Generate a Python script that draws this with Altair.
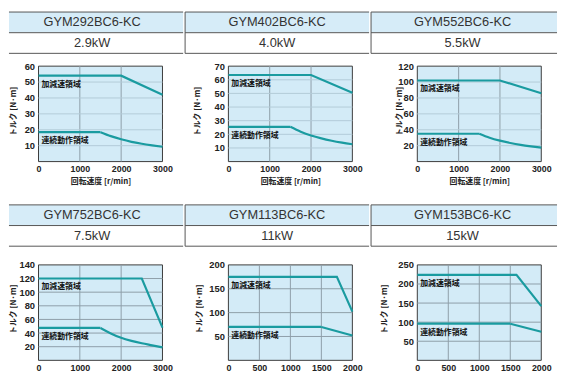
import altair as alt
import pandas as pd

# ---------------- data ----------------
MODELS = ["GYM292BC6-KC", "GYM402BC6-KC", "GYM552BC6-KC",
          "GYM752BC6-KC", "GYM113BC6-KC", "GYM153BC6-KC"]
POWERS = ["2.9kW", "4.0kW", "5.5kW", "7.5kW", "11kW", "15kW"]

X_MAX = [3000, 3000, 3000, 3000, 2000, 2000]
X_TICKS = [[0, 1000, 2000, 3000]] * 4 + [[0, 500, 1000, 1500, 2000]] * 2
Y_MAX = [60, 70, 120, 140, 200, 250]
Y_TICKS = [
    [10, 20, 30, 40, 50, 60],
    [10, 20, 30, 40, 50, 60, 70],
    [20, 40, 60, 80, 100, 120],
    [20, 40, 60, 80, 100, 120, 140],
    [50, 100, 150, 200],
    [50, 100, 150, 200, 250],
]

# acceleration / deceleration region (加減速領域)
ACC_SPEED = [[0, 2000, 3000], [0, 2000, 3000], [0, 2000, 3000],
             [0, 2500, 3000], [0, 1750, 2000], [0, 1600, 2000]]
ACC_TORQUE = [[54, 54, 42], [63.5, 63.5, 50.5], [102, 102, 86],
              [120, 120, 48], [175, 175, 102], [224, 224, 142]]

# continuous operation region (連続動作領域)
CONT_SPEED = [[0, 1500, 1750, 2000, 2250, 2500, 2750, 3000]] * 4 + [[0, 1500, 2000]] * 2
CONT_TORQUE = [
    [18.5, 18.5, 16, 14, 12.4, 11.2, 10.2, 9.3],
    [25.5, 25.5, 21.9, 19.1, 17, 15.3, 13.9, 12.7],
    [35, 35, 30, 26.3, 23.4, 21, 19.1, 17.5],
    [47.5, 47.5, 39.5, 33, 28.5, 25, 22, 19],
    [70, 70, 52],
    [96, 96, 75],
]

ACC_LABEL = "加減速領域"
CONT_LABEL = "連続動作領域"
Y_TITLE = "トルク [N·m]"
X_TITLE = "回転速度 [r/min]"

# ---------------- styling / layout ----------------
HEAD_BG = "#d6ecf8"
PLOT_BG = "#d3ebf7"
FRAME = "#3a3a3a"
HEAD_LINE = "#555555"
GRID = "#8e9ea8"
GRID_FAINT = "#b3cbd8"
TEAL = "#1a9ba0"
NUM_FONT = "Liberation Sans"
CJK_FONT = "Noto Sans CJK JP"

COL_W = [177, 187, 189]
PLOT_LEFT = [30, 44, 47]
PLOT_W = 126
PLOT_H = 97
HEAD_H = 42
PLOT_TOP = [12, 18]
VIEW_H = [152, 115]
HEAD_DX = [-4, 0, -1.5]
TITLE_X = [-25, -31, -18, -25, -29, -33]
TITLE_DY = [-3, -4]


def header(i):
    col = i % 3
    df = pd.DataFrame({"cell": [MODELS[i]] * 2, "row": ["model", "power"],
                       "text": [MODELS[i], POWERS[i]]})
    xenc = alt.X("cell:N", scale=alt.Scale(paddingInner=0, paddingOuter=0), axis=None)
    yscale = alt.Scale(domain=["model", "power"], paddingInner=0, paddingOuter=0)
    yenc = alt.Y("row:N", scale=yscale, axis=None)
    cells = alt.Chart(df).mark_rect().encode(
        x=xenc, y=yenc,
        color=alt.Color("row:N", scale=alt.Scale(domain=["model", "power"],
                                                 range=[HEAD_BG, "#ffffff"]), legend=None))
    txt = alt.Chart(df).mark_text(font=NUM_FONT, fontSize=13, color="#333333",
                                  dx=HEAD_DX[col]).encode(x=xenc, y=yenc, text="text:N")
    top_rules = alt.Chart(df).mark_rule(color=HEAD_LINE, strokeWidth=1).encode(
        y=alt.Y("row:N", scale=yscale, axis=None, bandPosition=0))
    bottom_rule = alt.Chart(df).transform_filter(alt.datum.row == "power").mark_rule(
        color=HEAD_LINE, strokeWidth=1).encode(
        y=alt.Y("row:N", scale=yscale, axis=None, bandPosition=1))
    layers = [cells, txt, top_rules, bottom_rule]
    if col > 0:
        sep = alt.Chart(df).transform_filter(alt.datum.row == "model").mark_rule(
            color=HEAD_LINE, strokeWidth=1).encode(
            x=alt.X("cell:N", scale=alt.Scale(paddingInner=0, paddingOuter=0),
                    axis=None, bandPosition=0))
        layers.append(sep)
    return alt.layer(*layers).properties(width=COL_W[col], height=HEAD_H)


def panel(i):
    row, col = divmod(i, 3)
    L = PLOT_LEFT[col]
    T = PLOT_TOP[row]
    V = VIEW_H[row]
    xsc = alt.Scale(domain=[0, X_MAX[i]], range=[L, L + PLOT_W], nice=False, zero=False)
    ysc = alt.Scale(domain=[0, Y_MAX[i]], range=[T + PLOT_H, T], nice=False, zero=False)

    x_axis = alt.Axis(values=X_TICKS[i], format="d", domain=False, ticks=False, grid=False,
                      labelFont=NUM_FONT, labelFontSize=9, labelFontWeight="bold",
                      labelColor="#222222", labelPadding=3, labelFlush=False,
                      labelOverlap=False, offset=T + PLOT_H - V,
                      title=X_TITLE if row == 0 else " ", titleFont=CJK_FONT,
                      titleFontSize=8, titleFontWeight="bold", titleColor="#222222",
                      titleX=L + PLOT_W / 2, titleY=20, titleBaseline="middle",
                      titleAlign="center")
    y_axis = alt.Axis(values=Y_TICKS[i], format="d", domain=False, ticks=False, grid=False,
                      labelFont=NUM_FONT, labelFontSize=9.5, labelFontWeight="bold",
                      labelColor="#222222", labelPadding=4, labelFlush=False,
                      labelOverlap=False, offset=-L,
                      title=Y_TITLE, titleFont=CJK_FONT, titleFontSize=8,
                      titleFontWeight="bold", titleColor="#222222",
                      titleX=TITLE_X[i], titleY=T + PLOT_H / 2 + TITLE_DY[row],
                      titleBaseline="middle", titleAlign="center", titleAngle=270)

    def X(field):
        return alt.X(field, scale=xsc, axis=x_axis)

    def Y(field):
        return alt.Y(field, scale=ysc, axis=y_axis)

    frame_df = pd.DataFrame({"x0": [0], "x1": [X_MAX[i]], "y0": [0], "y1": [Y_MAX[i]]})
    bg = alt.Chart(frame_df).mark_rect(fill=PLOT_BG, stroke=FRAME, strokeWidth=1).encode(
        x=X("x0:Q"), x2="x1:Q", y=Y("y0:Q"), y2="y1:Q")

    vg = pd.DataFrame({"gx": [t for t in X_TICKS[i] if 0 < t < X_MAX[i]]})
    vg["gy0"] = 0
    vg["gy1"] = Y_MAX[i]
    vgrid = alt.Chart(vg).mark_rule(color=GRID, strokeWidth=1).encode(
        x=X("gx:Q"), y=Y("gy0:Q"), y2="gy1:Q")

    hg = pd.DataFrame({"gy": [t for t in Y_TICKS[i] if 0 < t < Y_MAX[i]]})
    hg["gx0"] = 0
    hg["gx1"] = X_MAX[i]
    hgrid = alt.Chart(hg).mark_rule(color=GRID_FAINT if row == 0 else GRID,
                                    strokeWidth=1).encode(
        y=Y("gy:Q"), x=X("gx0:Q"), x2="gx1:Q")

    straight_rows = []
    for k, (s, t) in enumerate(zip(ACC_SPEED[i], ACC_TORQUE[i])):
        straight_rows.append({"speed": s, "torque": t, "series": "acc", "order": k})
    for k in range(2):
        straight_rows.append({"speed": CONT_SPEED[i][k], "torque": CONT_TORQUE[i][k],
                              "series": "cont", "order": k})
    straight = alt.Chart(pd.DataFrame(straight_rows)).mark_line(
        color=TEAL, strokeWidth=2.2).encode(
        x=X("speed:Q"), y=Y("torque:Q"), detail="series:N", order="order:Q")

    curve_df = pd.DataFrame({"speed": CONT_SPEED[i][1:], "torque": CONT_TORQUE[i][1:]})
    curve = alt.Chart(curve_df).mark_line(color=TEAL, strokeWidth=2.2,
                                          interpolate="monotone").encode(
        x=X("speed:Q"), y=Y("torque:Q"))

    lab_df = pd.DataFrame({"speed": [0, 0],
                           "torque": [ACC_TORQUE[i][0], CONT_TORQUE[i][0]],
                           "label": [ACC_LABEL, CONT_LABEL]})
    labels = alt.Chart(lab_df).mark_text(font=CJK_FONT, fontSize=8, fontWeight="bold",
                                         color="#111111", align="left", baseline="middle",
                                         dx=3, dy=9).encode(
        x=X("speed:Q"), y=Y("torque:Q"), text="label:N")

    return alt.layer(bg, vgrid, hgrid, straight, curve, labels).properties(
        width=COL_W[col], height=V)


def column(i):
    return alt.vconcat(header(i), panel(i), spacing=0)


row1 = alt.hconcat(column(0), column(1), column(2), spacing=0)
row2 = alt.hconcat(column(3), column(4), column(5), spacing=0)

chart = alt.vconcat(row1, row2, spacing=0).properties(padding=0).configure_view(
    strokeWidth=0).configure_concat(spacing=0)

chart.save("out.html", embed_options={"renderer": "svg", "actions": False})
